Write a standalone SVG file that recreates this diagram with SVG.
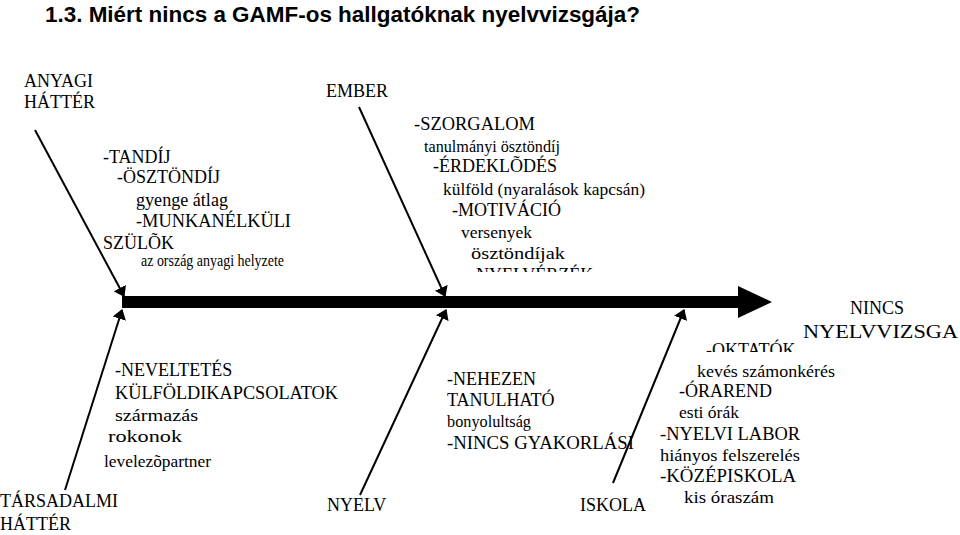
<svg xmlns="http://www.w3.org/2000/svg" width="960" height="535" viewBox="0 0 960 535">
<style>
text{font-family:'Liberation Serif','Times New Roman','DejaVu Serif',serif;fill:#000}
.t{font-size:18px}
.s{font-size:16px}
.b{stroke:#000;stroke-width:2;fill:none}
</style>
<defs>
<marker id="a" markerWidth="10" markerHeight="14" refX="9" refY="7" orient="auto" markerUnits="userSpaceOnUse"><path d="M0,0 L10,7 L0,14 Z" fill="#000"/></marker>
<clipPath id="c1"><rect x="400" y="262" width="300" height="10"/></clipPath>
<clipPath id="c2"><rect x="690" y="330" width="200" height="22"/></clipPath>
</defs>
<rect width="960" height="535" fill="#fff"/>
<text x="45" y="22" font-size="22" font-weight="bold" style="font-family:'Liberation Sans',Arial,sans-serif" textLength="595" lengthAdjust="spacingAndGlyphs">1.3. Miért nincs a GAMF-os hallgatóknak nyelvvizsgája?</text>
<g id="connectors">
<line x1="122" y1="302" x2="742" y2="302" stroke="#000" stroke-width="12"/>
<path d="M738,286 L772,302 L738,318 Z" fill="#000"/>
<line class="b" x1="35" y1="130" x2="124" y2="296" marker-end="url(#a)"/>
<line class="b" x1="359" y1="107" x2="445" y2="296" marker-end="url(#a)"/>
<line class="b" x1="65" y1="490" x2="122" y2="310" marker-end="url(#a)"/>
<line class="b" x1="360" y1="495" x2="446" y2="310" marker-end="url(#a)"/>
<line class="b" x1="613" y1="483" x2="684" y2="310" marker-end="url(#a)"/>
</g>
<g id="anyagi"><text class="t" x="24" y="87">ANYAGI</text><text class="t" x="24" y="108">HÁTTÉR</text>
<text class="t" x="103" y="163">-TANDÍJ</text><text class="t" x="117" y="183">-ÖSZTÖNDÍJ</text><text class="t" x="136" y="206" textLength="92" lengthAdjust="spacingAndGlyphs">gyenge átlag</text><text class="t" x="136" y="227" textLength="155" lengthAdjust="spacingAndGlyphs">-MUNKANÉLKÜLI</text><text class="t" x="103" y="249">SZÜLÕK</text><text class="s" x="141" y="266" textLength="143" lengthAdjust="spacingAndGlyphs">az ország anyagi helyzete</text></g>
<g id="ember"><text class="t" x="326" y="97">EMBER</text>
<text class="t" x="414" y="130" textLength="121" lengthAdjust="spacingAndGlyphs">-SZORGALOM</text><text class="s" x="424" y="152" textLength="136" lengthAdjust="spacingAndGlyphs">tanulmányi ösztöndíj</text><text class="t" x="433" y="172">-ÉRDEKLÕDÉS</text><text class="s" x="443" y="195" textLength="202" lengthAdjust="spacingAndGlyphs">külföld (nyaralások kapcsán)</text><text class="t" x="452" y="216">-MOTIVÁCIÓ</text><text class="s" x="461" y="238" textLength="71" lengthAdjust="spacingAndGlyphs">versenyek</text><text class="s" x="471" y="259" textLength="94" lengthAdjust="spacingAndGlyphs">ösztöndíjak</text><text class="t" x="476" y="281" clip-path="url(#c1)">NYELVÉRZÉK</text></g>
<g id="tarsadalmi"><text class="t" x="0" y="507">TÁRSADALMI</text><text class="t" x="0" y="530">HÁTTÉR</text>
<text class="t" x="115" y="376">-NEVELTETÉS</text><text class="t" x="115" y="399" textLength="223" lengthAdjust="spacingAndGlyphs">KÜLFÖLDIKAPCSOLATOK</text><text class="s" x="115" y="421" textLength="83" lengthAdjust="spacingAndGlyphs">származás</text><text class="s" x="108" y="442" textLength="74" lengthAdjust="spacingAndGlyphs">rokonok</text><text class="s" x="104" y="467" textLength="107" lengthAdjust="spacingAndGlyphs">levelezõpartner</text></g>
<g id="nyelv"><text class="t" x="327" y="511">NYELV</text>
<text class="t" x="447" y="385">-NEHEZEN</text><text class="t" x="447" y="406">TANULHATÓ</text><text class="s" x="447" y="427" textLength="84" lengthAdjust="spacingAndGlyphs">bonyolultság</text><text class="t" x="447" y="449" textLength="187" lengthAdjust="spacingAndGlyphs">-NINCS GYAKORLÁSI</text></g>
<g id="iskola"><text class="t" x="580" y="511">ISKOLA</text>
<text class="t" x="706" y="356" clip-path="url(#c2)">-OKTATÓK</text><text class="s" x="697" y="377" textLength="138" lengthAdjust="spacingAndGlyphs">kevés számonkérés</text><text class="t" x="679" y="397">-ÓRAREND</text><text class="s" x="679" y="418" textLength="60" lengthAdjust="spacingAndGlyphs">esti órák</text><text class="t" x="660" y="440" textLength="140" lengthAdjust="spacingAndGlyphs">-NYELVI LABOR</text><text class="s" x="660" y="461" textLength="140" lengthAdjust="spacingAndGlyphs">hiányos felszerelés</text><text class="t" x="660" y="482" textLength="136" lengthAdjust="spacingAndGlyphs">-KÖZÉPISKOLA</text><text class="s" x="684" y="503" textLength="90" lengthAdjust="spacingAndGlyphs">kis óraszám</text></g>
<g id="result"><text class="t" x="850" y="314">NINCS</text><text class="t" x="803" y="338" textLength="155" lengthAdjust="spacingAndGlyphs">NYELVVIZSGA</text></g>
</svg>
